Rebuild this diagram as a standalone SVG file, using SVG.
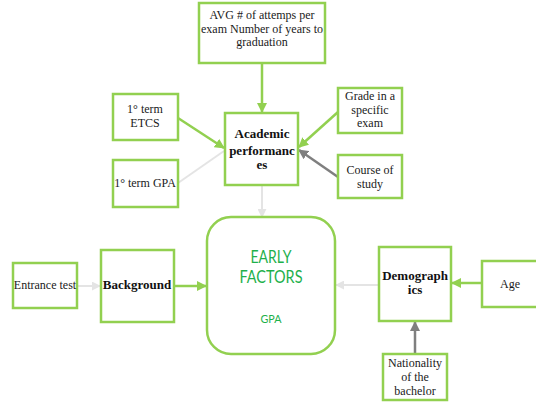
<svg xmlns="http://www.w3.org/2000/svg" width="536" height="403" viewBox="0 0 536 403">
  <defs>
    <style>
      .box { fill: #ffffff; stroke: #92D050; stroke-width: 2.5; }
      .t { font-family: "Liberation Serif", "Times New Roman", serif; font-size: 12px; fill: #1a1a1a; text-anchor: middle; }
      .b { font-family: "Liberation Serif", "Times New Roman", serif; font-size: 13px; font-weight: bold; fill: #111111; text-anchor: middle; }
      .g { font-family: Lato, "Open Sans", "Liberation Sans", sans-serif; fill: #1DB04B; text-anchor: middle; }
      .cg { fill: none; stroke: #92D050; stroke-width: 2.5; }
      .cl { fill: none; stroke: #E4E4E4; stroke-width: 2; }
      .cd { fill: none; stroke: #7F7F7F; stroke-width: 2.5; }
    </style>
    <marker id="ag" viewBox="0 0 10 10" refX="9" refY="5" markerWidth="4" markerHeight="4" orient="auto" markerUnits="strokeWidth">
      <path d="M0,0 L10,5 L0,10 z" fill="#92D050"/>
    </marker>
    <marker id="al" viewBox="0 0 10 10" refX="9" refY="5" markerWidth="4.5" markerHeight="4.5" orient="auto" markerUnits="strokeWidth">
      <path d="M0,0 L10,5 L0,10 z" fill="#E4E4E4"/>
    </marker>
    <marker id="ad" viewBox="0 0 10 10" refX="9" refY="5" markerWidth="4" markerHeight="4" orient="auto" markerUnits="strokeWidth">
      <path d="M0,0 L10,5 L0,10 z" fill="#7F7F7F"/>
    </marker>
  </defs>

  <rect width="536" height="403" fill="#ffffff"/>

  <!-- connectors -->
  <g id="connectors">
    <line class="cg" x1="262" y1="63" x2="262" y2="112" marker-end="url(#ag)"/>
    <line class="cg" x1="178" y1="118" x2="224" y2="148" marker-end="url(#ag)"/>
    <line class="cl" x1="178" y1="183" x2="224" y2="151" stroke-width="1"/>
    <line class="cg" x1="338" y1="112" x2="299" y2="147" marker-end="url(#ag)"/>
    <line class="cd" x1="338" y1="177" x2="299" y2="150" marker-end="url(#ad)"/>
    <line class="cl" x1="262" y1="186" x2="262" y2="217" marker-end="url(#al)"/>
    <line class="cl" x1="77" y1="286" x2="100" y2="286" marker-end="url(#al)"/>
    <line class="cg" x1="174" y1="286" x2="206" y2="286" marker-end="url(#ag)"/>
    <line class="cl" x1="379" y1="285" x2="336" y2="285" marker-end="url(#al)"/>
    <line class="cg" x1="482" y1="283" x2="452" y2="283" marker-end="url(#ag)"/>
    <line class="cd" x1="415" y1="354" x2="415" y2="322" marker-end="url(#ad)"/>
  </g>

  <g id="avg-attempts">
    <rect class="box" x="199" y="3" width="126" height="60"/>
    <text class="t" x="262" y="19">AVG # of attemps per</text>
    <text class="t" x="262" y="33">exam Number of years to</text>
    <text class="t" x="262" y="46">graduation</text>
  </g>

  <g id="first-term-etcs">
    <rect class="box" x="113" y="94" width="65" height="46"/>
    <text class="t" x="145" y="113">1° term</text>
    <text class="t" x="145" y="127">ETCS</text>
  </g>

  <g id="first-term-gpa">
    <rect class="box" x="113" y="160" width="65" height="47"/>
    <text class="t" x="145" y="187">1° term GPA</text>
  </g>

  <g id="academic-performances">
    <rect class="box" x="225" y="113" width="73" height="72"/>
    <text class="b" x="262" y="138">Academic</text>
    <text class="b" x="262" y="155">performanc</text>
    <text class="b" x="262" y="169">es</text>
  </g>

  <g id="grade-exam">
    <rect class="box" x="338" y="88" width="64" height="45"/>
    <text class="t" x="370" y="100">Grade in a</text>
    <text class="t" x="370" y="114">specific</text>
    <text class="t" x="370" y="127">exam</text>
  </g>

  <g id="course-of-study">
    <rect class="box" x="338" y="155" width="64" height="43"/>
    <text class="t" x="370" y="174">Course of</text>
    <text class="t" x="370" y="188">study</text>
  </g>

  <g id="early-factors">
    <rect class="box" x="207" y="217" width="128" height="137" rx="24" ry="24" stroke-width="2.8"/>
    <text class="g" x="271" y="263" font-size="17" textLength="41" lengthAdjust="spacingAndGlyphs">EARLY</text>
    <text class="g" x="271" y="283" font-size="17" textLength="63" lengthAdjust="spacingAndGlyphs">FACTORS</text>
    <text class="g" x="271" y="323" font-size="11" textLength="21" lengthAdjust="spacingAndGlyphs">GPA</text>
  </g>

  <g id="entrance-test">
    <rect class="box" x="13" y="263" width="64" height="45"/>
    <text class="t" x="45" y="289">Entrance test</text>
  </g>

  <g id="background">
    <rect class="box" x="101" y="250" width="73" height="72"/>
    <text class="b" x="137" y="289">Background</text>
  </g>

  <g id="demographics">
    <rect class="box" x="379" y="247" width="72" height="74"/>
    <text class="b" x="415" y="280">Demograph</text>
    <text class="b" x="415" y="294">ics</text>
  </g>

  <g id="age">
    <rect class="box" x="482" y="261" width="56" height="46"/>
    <text class="t" x="510" y="288">Age</text>
  </g>

  <g id="nationality">
    <rect class="box" x="383" y="354" width="64" height="46"/>
    <text class="t" x="415" y="367">Nationality</text>
    <text class="t" x="415" y="381">of the</text>
    <text class="t" x="415" y="395">bachelor</text>
  </g>
</svg>
